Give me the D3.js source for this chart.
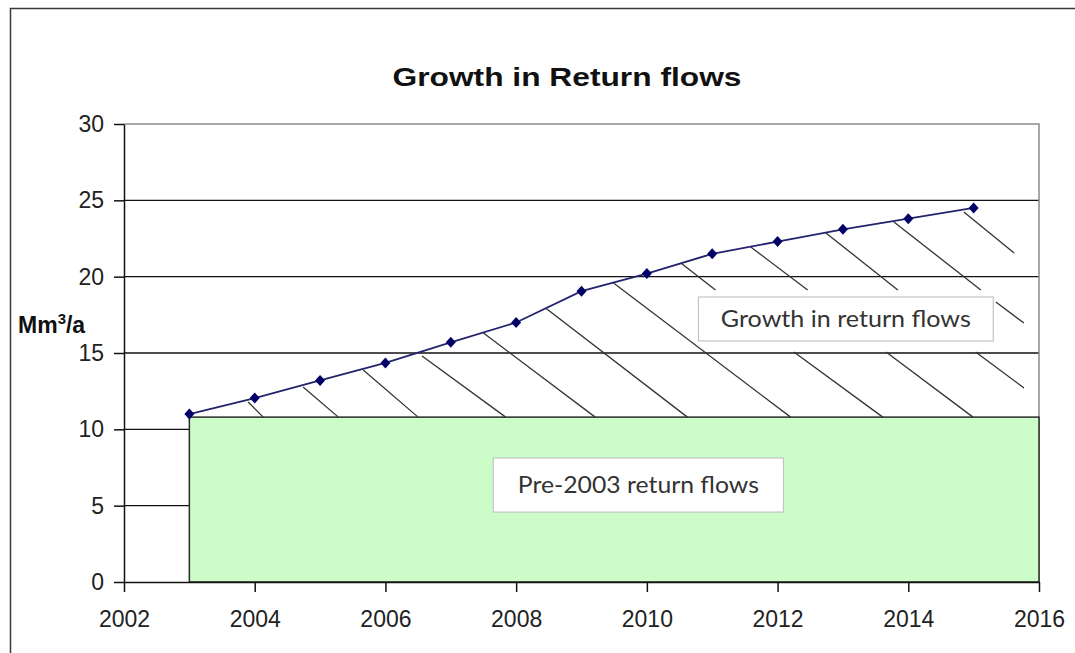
<!DOCTYPE html>
<html>
<head>
<meta charset="utf-8">
<script src="https://cdn.jsdelivr.net/npm/d3@7"></script>
<style>
  body { margin: 0; background: #fff; }
  svg { display: block; }
</style>
</head>
<body>
<div id="chart"></div>
<script>
// chart values
var years = [2003, 2004, 2005, 2006, 2007, 2008, 2009, 2010, 2011, 2012, 2013, 2014, 2015];
var returnFlows = [11.0, 12.05, 13.2, 14.35, 15.7, 17.0, 19.05, 20.2, 21.5, 22.3, 23.1, 23.8, 24.5];
var pre2003Flow = 10.8;
var pre2003Span = [2003, 2016];
var xTicks = [2002, 2004, 2006, 2008, 2010, 2012, 2014, 2016];
var yTicks = [0, 5, 10, 15, 20, 25, 30];
// hatch strokes, start and end points in [year, value]
var hatchFrom = [
  [2003.90, 11.79], [2004.74, 12.77], [2005.66, 13.89], [2006.56, 14.80],
  [2007.50, 16.31], [2008.45, 17.95], [2009.49, 19.58], [2010.52, 20.89],
  [2011.59, 21.94], [2012.74, 22.86], [2013.78, 23.58], [2014.85, 24.24],
  [2015.34, 18.34], [2012.25, 15.07], [2013.66, 15.07], [2015.03, 15.07]
];
var hatchTo = [
  [2004.13, 10.8], [2005.28, 10.8], [2006.50, 10.8], [2007.84, 10.8],
  [2009.21, 10.8], [2010.62, 10.8], [2012.20, 10.8], [2011.05, 19.13],
  [2012.46, 19.13], [2013.84, 19.13], [2015.11, 19.13], [2015.62, 21.55],
  [2015.77, 16.96], [2013.61, 10.8], [2014.99, 10.8], [2015.77, 12.71]
];
var titleText = "Growth in Return flows";
var growthLabel = "Growth in return flows";
var preLabel = "Pre-2003 return flows";

var W = 1075, H = 653;
var margin = {top: 124, right: 36, bottom: 71, left: 124};

var svg = d3.select("#chart").append("svg")
    .attr("width", W)
    .attr("height", H);

// outer chart frame (runs off the right/bottom edge like the picture)
svg.append("rect")
    .attr("x", 10.5).attr("y", 8.5)
    .attr("width", W).attr("height", H)
    .attr("fill", "none")
    .attr("stroke", "#3a3a3a")
    .attr("stroke-width", 1.5);

var x = d3.scaleLinear().domain([2002, 2016]).range([margin.left, W - margin.right]);
var y = d3.scaleLinear().domain([0, 30]).range([H - margin.bottom, margin.top]);

// title
svg.append("text")
    .attr("x", 567)
    .attr("y", 86)
    .attr("text-anchor", "middle")
    .attr("font-family", "Liberation Sans, Arial, sans-serif")
    .attr("font-weight", "bold")
    .attr("font-size", 26)
    .attr("textLength", 349)
    .attr("lengthAdjust", "spacingAndGlyphs")
    .attr("fill", "#111")
    .text(titleText);

// gridlines
svg.append("g")
  .selectAll("line")
  .data(yTicks.filter(function(d) { return d > 0 && d < 30; }))
  .enter().append("line")
    .attr("x1", x(2002)).attr("x2", x(2016))
    .attr("y1", function(d) { return y(d); })
    .attr("y2", function(d) { return y(d); })
    .attr("stroke", "#111")
    .attr("stroke-width", 1.3);

// plot border top / right
svg.append("path")
    .attr("d", "M" + x(2002) + "," + y(30) + "H" + x(2016) + "V" + y(0))
    .attr("fill", "none")
    .attr("stroke", "#8a8a8a")
    .attr("stroke-width", 1.5);

// pre-2003 block
svg.append("rect")
    .attr("x", x(pre2003Span[0]))
    .attr("y", y(pre2003Flow))
    .attr("width", x(pre2003Span[1]) - x(pre2003Span[0]))
    .attr("height", y(0) - y(pre2003Flow))
    .attr("fill", "#ccfdc9")
    .attr("stroke", "#2a2a2a")
    .attr("stroke-width", 1.5);

// hatching
svg.append("g")
  .selectAll("line")
  .data(hatchFrom)
  .enter().append("line")
    .attr("x1", function(d) { return x(d[0]); })
    .attr("y1", function(d) { return y(d[1]); })
    .attr("x2", function(d, i) { return x(hatchTo[i][0]); })
    .attr("y2", function(d, i) { return y(hatchTo[i][1]); })
    .attr("stroke", "#333")
    .attr("stroke-width", 1.3);

// label boxes
function labelBox(x0, v0, x1, v1, txt, len) {
  svg.append("rect")
      .attr("x", x(x0)).attr("y", y(v0))
      .attr("width", x(x1) - x(x0))
      .attr("height", y(v1) - y(v0))
      .attr("fill", "#fff")
      .attr("stroke", "#c4c4c4")
      .attr("stroke-width", 1.2);
  svg.append("text")
      .attr("x", (x(x0) + x(x1)) / 2)
      .attr("y", (y(v0) + y(v1)) / 2 + 8)
      .attr("text-anchor", "middle")
      .attr("font-family", "Lato, 'Noto Sans', sans-serif")
      .attr("font-size", 23)
      .attr("textLength", len)
      .attr("lengthAdjust", "spacingAndGlyphs")
      .attr("fill", "#333")
      .text(txt);
}
labelBox(2010.79, 18.67, 2015.30, 15.79, growthLabel, 250);
labelBox(2007.65, 8.12, 2012.09, 4.58, preLabel, 241);

// return flow line
var line = d3.line()
    .x(function(d, i) { return x(years[i]); })
    .y(function(d) { return y(d); });

svg.append("path")
    .datum(returnFlows)
    .attr("d", line)
    .attr("fill", "none")
    .attr("stroke", "#24246e")
    .attr("stroke-width", 1.8);

svg.append("g")
  .selectAll("path")
  .data(returnFlows)
  .enter().append("path")
    .attr("transform", function(d, i) { return "translate(" + x(years[i]) + "," + y(d) + ")"; })
    .attr("d", "M0,-5.5L5,0L0,5.5L-5,0Z")
    .attr("fill", "#000066");

// axes
var yAxis = svg.append("g")
    .attr("transform", "translate(" + x(2002) + ",0)")
    .call(d3.axisLeft(y).tickValues(yTicks).tickSize(10).tickSizeOuter(0).tickPadding(10));
var xAxis = svg.append("g")
    .attr("transform", "translate(0," + y(0) + ")")
    .call(d3.axisBottom(x).tickValues(xTicks).tickFormat(d3.format("d")).tickSize(10).tickSizeOuter(0).tickPadding(19));

[yAxis, xAxis].forEach(function(a) {
  a.select(".domain").attr("stroke", "#111").attr("stroke-width", 1.5);
  a.selectAll(".tick line").attr("stroke", "#111").attr("stroke-width", 1.5);
  a.selectAll(".tick text")
      .attr("font-family", "Liberation Sans, Arial, sans-serif")
      .attr("font-size", 23)
      .attr("fill", "#222");
});

// y axis title
var yt = svg.append("text")
    .attr("x", 18)
    .attr("y", 333)
    .attr("font-family", "Liberation Sans, Arial, sans-serif")
    .attr("font-weight", "bold")
    .attr("font-size", 23)
    .attr("fill", "#111");
yt.append("tspan").text("Mm");
yt.append("tspan").attr("dy", -9).attr("font-size", 15).text("3");
yt.append("tspan").attr("dy", 9).text("/a");
</script>
</body>
</html>
